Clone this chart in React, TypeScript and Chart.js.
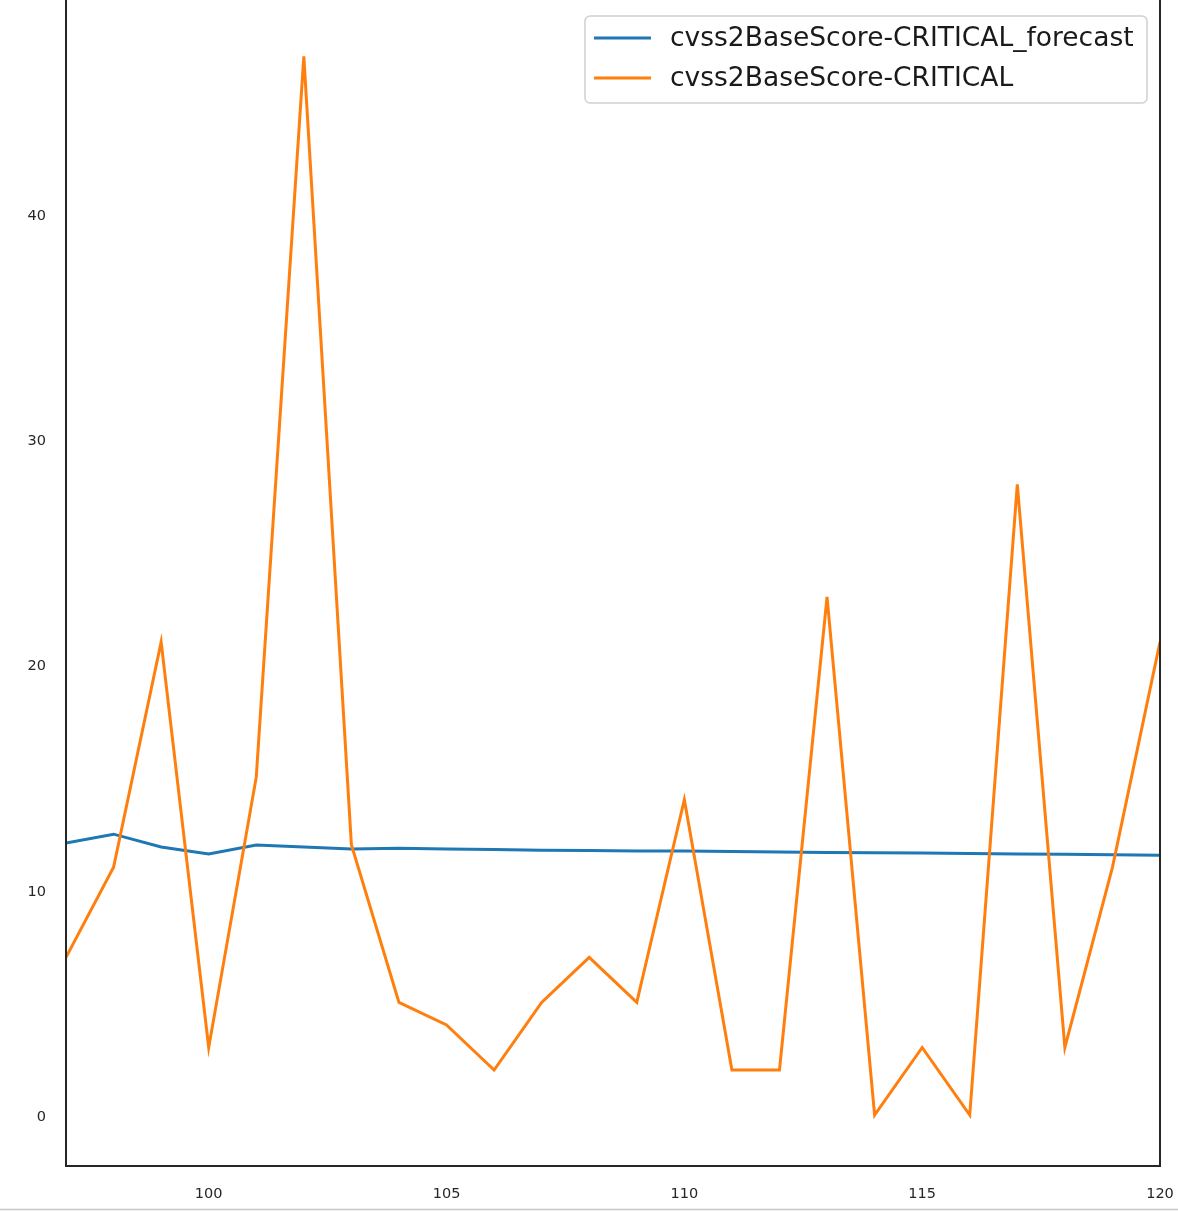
import React, { useEffect, useRef } from "react";
import { Chart, registerables } from "chart.js";

Chart.register(...registerables);

const xValues = [97, 98, 99, 100, 101, 102, 103, 104, 105, 106, 107, 108, 109, 110, 111, 112, 113, 114, 115, 116, 117, 118, 119, 120];
const actual = [7, 11, 21, 3, 15, 47, 12, 5, 4, 2, 5, 7, 5, 14, 2, 2, 23, 0, 3, 0, 28, 3, 11, 21];
const forecast = [12.08, 12.47, 11.9, 11.59, 11.99, 11.9, 11.81, 11.85, 11.81, 11.79, 11.76, 11.74, 11.72, 11.72, 11.7, 11.68, 11.66, 11.65, 11.63, 11.61, 11.59, 11.58, 11.56, 11.54];
const xTicks = [100, 105, 110, 115, 120];
const yTicks = [0, 10, 20, 30, 40];
const seriesNames = ["cvss2BaseScore-CRITICAL_forecast", "cvss2BaseScore-CRITICAL"];
const seriesColors = ["#1f77b4", "#ff7f0e"];

const W = 1178;
const H = 1211;

export default function App() {
  const ref = useRef<HTMLCanvasElement | null>(null);
  useEffect(() => {
    document.body.style.margin = "0";
    const canvas = ref.current!;
    const decor = {
      id: "decor",
      afterDraw(chart: any) {
        const ctx = chart.ctx;
        const a = chart.chartArea;
        ctx.save();
        // spines
        ctx.strokeStyle = "#262626";
        ctx.lineWidth = 2;
        ctx.beginPath();
        ctx.moveTo(a.left, a.top);
        ctx.lineTo(a.left, a.bottom);
        ctx.lineTo(a.right, a.bottom);
        ctx.lineTo(a.right, a.top);
        ctx.stroke();
        // legend
        const bx = 585, by = 16, bw = 562, bh = 87;
        ctx.fillStyle = "rgba(255,255,255,0.8)";
        ctx.strokeStyle = "#d0d0d0";
        ctx.lineWidth = 1.5;
        ctx.beginPath();
        (ctx as any).roundRect(bx, by, bw, bh, 5);
        ctx.fill();
        ctx.stroke();
        ctx.font = "26.5px 'DejaVu Sans'";
        ctx.textBaseline = "middle";
        ctx.textAlign = "left";
        const rows = [38, 78];
        for (let i = 0; i < 2; i++) {
          ctx.strokeStyle = seriesColors[i];
          ctx.lineWidth = 3;
          ctx.beginPath();
          ctx.moveTo(594, rows[i]);
          ctx.lineTo(651, rows[i]);
          ctx.stroke();
          ctx.fillStyle = "#1a1a1a";
          ctx.fillText(seriesNames[i], 670, rows[i] + 1);
        }
        // page border line
        ctx.strokeStyle = "#c8c8c8";
        ctx.lineWidth = 1.5;
        ctx.beginPath();
        ctx.moveTo(0, 1209.5);
        ctx.lineTo(W, 1209.5);
        ctx.stroke();
        ctx.restore();
      },
    };
    const chart = new Chart(canvas, {
      type: "line",
      data: {
        datasets: [
          {
            label: seriesNames[0],
            data: xValues.map((x, i) => ({ x, y: forecast[i] })),
            borderColor: seriesColors[0],
            backgroundColor: seriesColors[0],
            borderWidth: 3,
            pointRadius: 0,
            tension: 0,
            order: 1,
          },
          {
            label: seriesNames[1],
            data: xValues.map((x, i) => ({ x, y: actual[i] })),
            borderColor: seriesColors[1],
            backgroundColor: seriesColors[1],
            borderWidth: 3,
            pointRadius: 0,
            tension: 0,
            order: 0,
          },
        ],
      },
      options: {
        responsive: false,
        animation: false,
        devicePixelRatio: 1,
        layout: { padding: { top: 0, right: 18, left: 0, bottom: 0 } },
        plugins: { legend: { display: false }, tooltip: { enabled: false } },
        scales: {
          x: {
            type: "linear",
            min: 97,
            max: 120,
            afterBuildTicks: (s: any) => {
              s.ticks = xTicks.map((v) => ({ value: v }));
            },
            afterFit: (s: any) => {
              s.height = 45;
              s.paddingLeft = 0;
              s.paddingRight = 0;
            },
            grid: { display: false, drawTicks: false },
            border: { display: false },
            ticks: {
              padding: 20,
              color: "#262626",
              font: { family: "DejaVu Sans", size: 14.5 },
              maxRotation: 0,
              callback: (v: any) => String(v),
            },
          },
          y: {
            type: "linear",
            min: -2.26,
            max: 49.5,
            afterBuildTicks: (s: any) => {
              s.ticks = yTicks.map((v) => ({ value: v }));
            },
            afterFit: (s: any) => {
              s.width = 66;
              s.paddingTop = 0;
              s.paddingBottom = 0;
            },
            grid: { display: false, drawTicks: false },
            border: { display: false },
            ticks: {
              padding: 20,
              labelOffset: 2,
              color: "#262626",
              font: { family: "DejaVu Sans", size: 14.5 },
              callback: (v: any) => String(v),
            },
          },
        },
      },
      plugins: [decor],
    } as any);
    return () => chart.destroy();
  }, []);
  return (
    <div style={{ position: "absolute", left: 0, top: 0, width: W, height: H, background: "#fff" }}>
      <canvas ref={ref} width={W} height={H} style={{ display: "block", width: W, height: H }} />
    </div>
  );
}
